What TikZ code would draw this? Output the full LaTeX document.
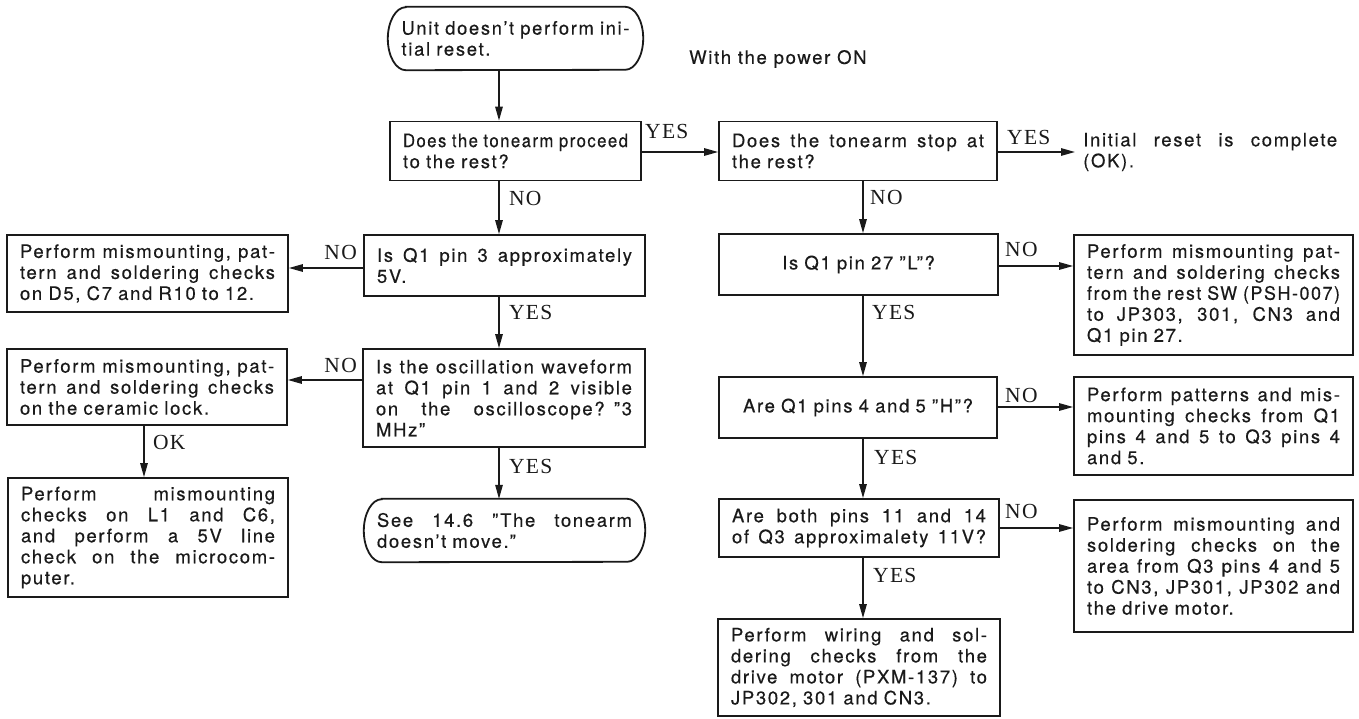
\documentclass[tikz,border=0pt]{standalone}
\usepackage{fontspec}
\usepackage{graphicx}
\setmainfont{TeX Gyre Heros}[LetterSpace=9, FakeBold=0.4]
\newfontfamily\labfont{Liberation Serif}[LetterSpace=6]
\usetikzlibrary{arrows.meta}
\definecolor{ink}{HTML}{1A1A1A}
\newbox\jlb
\newcommand\jl[1]{\noindent\setbox\jlb=\hbox{#1}\ifdim\wd\jlb>\hsize\resizebox{\hsize}{\height}{#1}\else\hbox to \hsize{\spaceskip=\fontdimen2\font plus 1fil\relax #1}\fi}
\newcommand\termout[2]{\draw[tline] ([xshift=18pt]#1.north west) -- ([xshift=-18pt]#1.north east) arc[start angle=90,end angle=-90,x radius=18pt,y radius=#2pt] -- ([xshift=18pt]#1.south west) arc[start angle=270,end angle=90,x radius=18pt,y radius=#2pt] -- cycle;}
\tikzset{
  txt/.style={font=\fontsize{18.5}{21}\selectfont, text=ink},
  box/.style={txt, draw=ink, line width=1.8pt, inner xsep=13pt, inner ysep=0pt, align=left},
  term/.style={txt, inner xsep=13pt, inner ysep=0pt, align=left},
  tline/.style={draw=ink, line width=1.8pt},
  conn/.style={draw=ink, line width=1.4pt, -{Triangle[length=14pt,width=7.5pt]}},
  lbl/.style={font=\labfont\fontsize{21.5}{22}\selectfont, text=ink, inner sep=0pt},
}
\begin{document}
\begin{tikzpicture}[x=1pt,y=-1pt]
\fill[white] (0,0) rectangle (1359,718);
\useasboundingbox (0,0) rectangle (1359,718);

% terminals
\node[term, text width=228pt, inner xsep=13.5pt, minimum height=63pt] (start) at (515.5,38.5)
  {\jl{Unit doesn't perform ini-}\\tial reset.};
\termout{start}{31.5}
\node[txt, anchor=west, inner sep=0pt] (power) at (689,59) {With the power ON};

% top row
\node[box, text width=225pt, minimum height=59pt] (box1) at (515.5,151)
  {\jl{Does the tonearm proceed}\\to the rest?};
\node[box, text width=252pt, minimum height=59pt] (box2) at (858,151)
  {\jl{Does the tonearm stop at}\\the rest?};
\node[txt, text width=254pt, align=left, inner sep=0pt, anchor=west] (ok) at (1083,152)
  {\jl{Initial reset is complete}\\(OK).};

% middle column
\node[box, text width=255pt, minimum height=61pt] (M1) at (504.5,265.5)
  {\jl{Is Q1 pin 3 approximately}\\5V.};
\node[box, text width=256pt, minimum height=98pt] (M2) at (504,398)
  {\jl{Is the oscillation waveform}\\\jl{at Q1 pin 1 and 2 visible}\\\jl{on the oscilloscope? ''3}\\MHz''};
\node[term, text width=255pt, minimum height=63pt] (M3) at (504.5,530.5)
  {\jl{See 14.6 ''The tonearm}\\doesn't move.''};
\termout{M3}{31.5}

% left column
\node[box, text width=255pt, minimum height=77pt] (L1) at (147.5,273.5)
  {\jl{Perform mismounting, pat-}\\\jl{tern and soldering checks}\\on D5, C7 and R10 to 12.};
\node[box, text width=254pt, minimum height=76pt] (L2) at (147,387)
  {\jl{Perform mismounting, pat-}\\\jl{tern and soldering checks}\\on the ceramic lock.};
\node[box, text width=254pt, minimum height=119pt] (L3) at (148,537.5)
  {\jl{Perform mismounting}\\\jl{checks on L1 and C6,}\\\jl{and perform a 5V line}\\\jl{check on the microcom-}\\puter.};

% right-centre column
\node[box, text width=253pt, minimum height=61pt, align=center] (RC1) at (858.5,264.5)
  {Is Q1 pin 27 ''L''?};
\node[box, text width=252pt, minimum height=61pt, align=center] (RC2) at (858,407.5)
  {Are Q1 pins 4 and 5 ''H''?};
\node[box, text width=254pt, minimum height=58pt] (RC4) at (859,528)
  {\jl{Are both pins 11 and 14}\\\jl{of Q3 approximalety 11V?}};
\node[box, text width=256pt, minimum height=97pt] (RC5) at (859,667.5)
  {\jl{Perform wiring and sol-}\\\jl{dering checks from the}\\\jl{drive motor (PXM-137) to}\\JP302, 301 and CN3.};

% right column
\node[box, text width=253pt, minimum height=120pt] (RR1) at (1213.5,295)
  {\jl{Perform mismounting pat-}\\\jl{tern and soldering checks}\\\jl{from the rest SW (PSH-007)}\\\jl{to JP303, 301, CN3 and}\\Q1 pin 27.};
\node[box, text width=253pt, minimum height=98pt] (RR2) at (1213.5,426)
  {\jl{Perform patterns and mis-}\\\jl{mounting checks from Q1}\\\jl{pins 4 and 5 to Q3 pins 4}\\and 5.};
\node[box, text width=253pt, minimum height=132pt] (RR3) at (1213.5,566)
  {\jl{Perform mismounting and}\\\jl{soldering checks on the}\\\jl{area from Q3 pins 4 and 5}\\\jl{to CN3, JP301, JP302 and}\\the drive motor.};

% guide coordinates
\coordinate (vm) at (499,0);
\coordinate (vr) at (863,0);
\coordinate (vl) at (144,0);
\coordinate (h1) at (0,152);
\coordinate (h2) at (0,268);
\coordinate (h3) at (0,380);
\coordinate (h4) at (0,266);
\coordinate (h5) at (0,407);
\coordinate (h6) at (0,528);

% connectors
\draw[conn] (start.south -| vm) -- (box1.north -| vm);
\draw[conn] (box1.east |- h1) -- (box2.west |- h1);
\draw[conn] (box2.east |- h1) -- ([xshift=-8pt]ok.west |- h1);
\draw[conn] (box1.south -| vm) -- (M1.north -| vm);
\draw[conn] (M1.west |- h2) -- (L1.east |- h2);
\draw[conn] (M1.south -| vm) -- (M2.north -| vm);
\draw[conn] (M2.west |- h3) -- (L2.east |- h3);
\draw[conn] (L2.south -| vl) -- (L3.north -| vl);
\draw[conn] (M2.south -| vm) -- (M3.north -| vm);
\draw[conn] (box2.south -| vr) -- (RC1.north -| vr);
\draw[conn] (RC1.east |- h4) -- (RR1.west |- h4);
\draw[conn] (RC1.south -| vr) -- (RC2.north -| vr);
\draw[conn] (RC2.east |- h5) -- (RR2.west |- h5);
\draw[conn] (RC2.south -| vr) -- (RC4.north -| vr);
\draw[conn] (RC4.east |- h6) -- (RR3.west |- h6);
\draw[conn] (RC4.south -| vr) -- (RC5.north -| vr);

% labels
\node[lbl, anchor=base west] (lb1) at (645,138) {YES};
\node[lbl, anchor=base west] (lb2) at (1007,144) {YES};
\node[lbl, anchor=base west] (lb3) at (509,205) {NO};
\node[lbl, anchor=base east] (lb4) at (357,259) {NO};
\node[lbl, anchor=base west] (lb5) at (509,319) {YES};
\node[lbl, anchor=base east] (lb6) at (357,372) {NO};
\node[lbl, anchor=base west] (lb7) at (153,449) {OK};
\node[lbl, anchor=base west] (lb8) at (509,473) {YES};
\node[lbl, anchor=base west] (lb9) at (870,204) {NO};
\node[lbl, anchor=base west] (lb10) at (1005,256) {NO};
\node[lbl, anchor=base west] (lb11) at (872,319) {YES};
\node[lbl, anchor=base west] (lb12) at (1005,402) {NO};
\node[lbl, anchor=base west] (lb13) at (874,464) {YES};
\node[lbl, anchor=base west] (lb14) at (1005,518) {NO};
\node[lbl, anchor=base west] (lb15) at (873,582) {YES};
\end{tikzpicture}
\end{document}
